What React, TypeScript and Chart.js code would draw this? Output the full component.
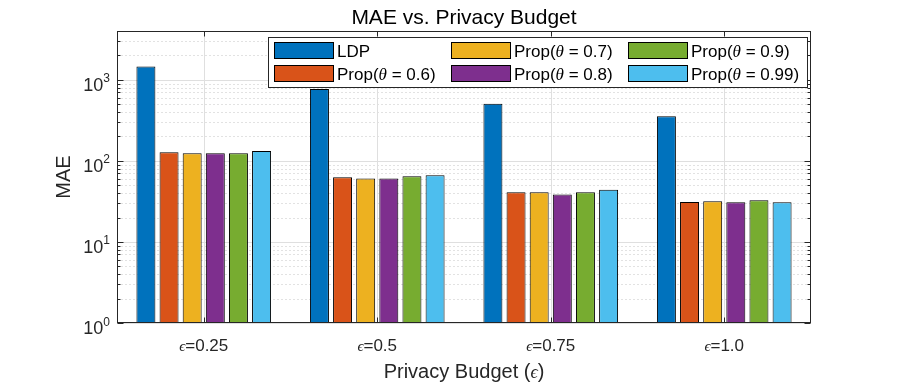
import React, { useEffect, useRef } from 'react';
import { Chart, registerables } from 'chart.js';

Chart.register(...registerables);

// ---------------- data ----------------
const categories = ['0.25', '0.5', '0.75', '1.0'];
const seriesKeys = ['LDP', '0.6', '0.7', '0.8', '0.9', '0.99'];
const seriesColors = ['#0072BD', '#D95319', '#EDB120', '#7E2F8E', '#77AC30', '#4DBEEE'];
const ldpValues = [1460, 768, 508, 355];
const prop06Values = [128, 63, 41, 31];
const prop07Values = [124, 60.5, 41, 31.7];
const prop08Values = [124, 60.5, 38.6, 30.8];
const prop09Values = [124, 64.7, 41, 32.6];
const prop099Values = [132, 66.6, 44, 30.8];
const seriesValues = [ldpValues, prop06Values, prop07Values, prop08Values, prop09Values, prop099Values];
const yMin = 1;
const yMax = 4000;
const yTickExponents = [0, 1, 2, 3];

const SANS = "'Liberation Sans', Arial, sans-serif";
const SERIF = "'Liberation Serif', 'DejaVu Serif', serif";
const AX = '#262626';

type Seg = { text: string; font: string; dy?: number };

function drawSegs(ctx: CanvasRenderingContext2D, segs: Seg[], x: number, y: number, align: 'left' | 'center' | 'right') {
  const widths = segs.map((s) => {
    ctx.font = s.font;
    return ctx.measureText(s.text).width;
  });
  const total = widths.reduce((a, b) => a + b, 0);
  let cx = align === 'left' ? x : align === 'center' ? x - total / 2 : x - total;
  ctx.textAlign = 'left';
  ctx.textBaseline = 'alphabetic';
  segs.forEach((s, i) => {
    ctx.font = s.font;
    ctx.fillText(s.text, cx, y + (s.dy || 0));
    cx += widths[i];
  });
}

function legendSegs(key: string, size: number): Seg[] {
  if (key === 'LDP') return [{ text: 'LDP', font: `${size}px ${SANS}` }];
  return [
    { text: 'Prop(', font: `${size}px ${SANS}` },
    { text: 'θ', font: `italic ${size}px ${SERIF}` },
    { text: ` = ${key})`, font: `${size}px ${SANS}` },
  ];
}

function line(ctx: CanvasRenderingContext2D, x1: number, y1: number, x2: number, y2: number) {
  ctx.beginPath();
  ctx.moveTo(x1, y1);
  ctx.lineTo(x2, y2);
  ctx.stroke();
}

const matlabPlugin = {
  id: 'matlabLook',
  beforeDatasetsDraw(chart: any) {
    const { ctx, chartArea: a, scales } = chart;
    const x = scales.x;
    const y = scales.y;
    ctx.save();
    ctx.lineWidth = 1;
    // minor grid (dotted)
    ctx.strokeStyle = '#e2e2e2';
    ctx.setLineDash([2, 2]);
    for (let e = 0; e <= 3; e++) {
      for (let m = 2; m <= 9; m++) {
        const v = m * Math.pow(10, e);
        if (v >= yMax) continue;
        const py = Math.round(y.getPixelForValue(v)) + 0.5;
        line(ctx, a.left, py, a.right, py);
      }
    }
    // major grid
    ctx.setLineDash([]);
    ctx.strokeStyle = '#dfdfdf';
    yTickExponents.forEach((e) => {
      const py = Math.round(y.getPixelForValue(Math.pow(10, e))) + 0.5;
      line(ctx, a.left, py, a.right, py);
    });
    categories.forEach((_, i) => {
      const px = Math.round(x.getPixelForValue(i)) + 0.5;
      line(ctx, px, a.top, px, a.bottom);
    });
    ctx.restore();
  },
  afterDatasetsDraw(chart: any) {
    const { ctx, chartArea: a, scales } = chart;
    const x = scales.x;
    const y = scales.y;
    ctx.save();
    ctx.setLineDash([]);
    ctx.lineWidth = 1;
    ctx.strokeStyle = AX;
    const L = Math.round(a.left) + 0.5;
    const R = Math.round(a.right) - 0.5;
    const T = Math.round(a.top) + 0.5;
    const B = Math.round(a.bottom) - 0.5;
    ctx.strokeRect(L, T, R - L, B - T);
    // y ticks
    for (let e = 0; e <= 3; e++) {
      for (let m = 1; m <= 9; m++) {
        const v = m * Math.pow(10, e);
        if (v > yMax) continue;
        const py = Math.round(y.getPixelForValue(v)) + 0.5;
        const len = m === 1 ? 6 : 3;
        line(ctx, L, py, L + len, py);
        line(ctx, R, py, R - len, py);
      }
    }
    // x ticks
    categories.forEach((_, i) => {
      const px = Math.round(x.getPixelForValue(i)) + 0.5;
      line(ctx, px, B, px, B - 5);
      line(ctx, px, T, px, T + 5);
    });
    // y tick labels
    ctx.fillStyle = AX;
    yTickExponents.forEach((e) => {
      const py = y.getPixelForValue(Math.pow(10, e));
      drawSegs(
        ctx,
        [
          { text: '10', font: `18px ${SANS}` },
          { text: String(e), font: `12px ${SANS}`, dy: -8.5 },
        ],
        110,
        py + 11,
        'right'
      );
    });
    // x category labels
    categories.forEach((c, i) => {
      const px = x.getPixelForValue(i);
      drawSegs(
        ctx,
        [
          { text: 'ϵ', font: `italic 15px ${SERIF}` },
          { text: '=' + c, font: `17px ${SANS}` },
        ],
        px,
        351,
        'center'
      );
    });
    // x axis title
    const cxp = (a.left + a.right) / 2;
    drawSegs(
      ctx,
      [
        { text: 'Privacy Budget (', font: `20px ${SANS}` },
        { text: 'ϵ', font: `italic 18px ${SERIF}` },
        { text: ')', font: `20px ${SANS}` },
      ],
      cxp,
      378,
      'center'
    );
    // y axis title
    ctx.save();
    ctx.translate(70, (a.top + a.bottom) / 2);
    ctx.rotate(-Math.PI / 2);
    ctx.font = `20px ${SANS}`;
    ctx.textAlign = 'center';
    ctx.textBaseline = 'alphabetic';
    ctx.fillText('MAE', 0, 0);
    ctx.restore();
    // title
    ctx.fillStyle = '#000';
    ctx.font = `21px ${SANS}`;
    ctx.textAlign = 'center';
    ctx.textBaseline = 'alphabetic';
    ctx.fillText('MAE vs. Privacy Budget', cxp, 23.5);

    // legend
    const lx = 268.5, ly = 37.5, lw = 539, lh = 50;
    ctx.fillStyle = '#fff';
    ctx.fillRect(lx, ly, lw, lh);
    ctx.strokeStyle = AX;
    ctx.strokeRect(lx, ly, lw, lh);
    const colX = [274, 451, 628];
    const rowY = [42, 65];
    chart.data.datasets.forEach((ds: any, i: number) => {
      const col = Math.floor(i / 2);
      const row = i % 2;
      const sx = colX[col];
      const sy = rowY[row];
      ctx.fillStyle = ds.backgroundColor;
      ctx.fillRect(sx, sy, 60, 17);
      ctx.strokeStyle = '#000';
      ctx.strokeRect(sx + 0.5, sy + 0.5, 59, 16);
      ctx.fillStyle = '#000';
      drawSegs(ctx, legendSegs(seriesKeys[i], 17), sx + 63, sy + 15, 'left');
    });
    ctx.restore();
  },
};

export default function App() {
  const ref = useRef<HTMLCanvasElement | null>(null);
  useEffect(() => {
    if (!ref.current) return;
    const chart = new Chart(ref.current, {
      type: 'bar',
      data: {
        labels: categories,
        datasets: seriesKeys.map((k, i) => ({
          label: k,
          data: seriesValues[i],
          backgroundColor: seriesColors[i],
          borderColor: '#000',
          borderWidth: 1,
          barPercentage: 0.82,
          categoryPercentage: 0.8,
        })),
      },
      options: {
        animation: false,
        responsive: false,
        devicePixelRatio: 1,
        layout: { padding: { left: 117, right: 86, top: 31, bottom: 60 } },
        plugins: { legend: { display: false }, title: { display: false }, tooltip: { enabled: false } },
        scales: {
          x: { type: 'category', display: false, offset: true },
          y: { type: 'logarithmic', display: false, min: yMin, max: yMax },
        },
      },
      plugins: [matlabPlugin],
    });
    return () => chart.destroy();
  }, []);
  return (
    <div style={{ position: 'fixed', left: 0, top: 0, width: 897, height: 383, background: '#fff' }}>
      <canvas ref={ref} width={897} height={383} style={{ display: 'block' }} />
    </div>
  );
}
